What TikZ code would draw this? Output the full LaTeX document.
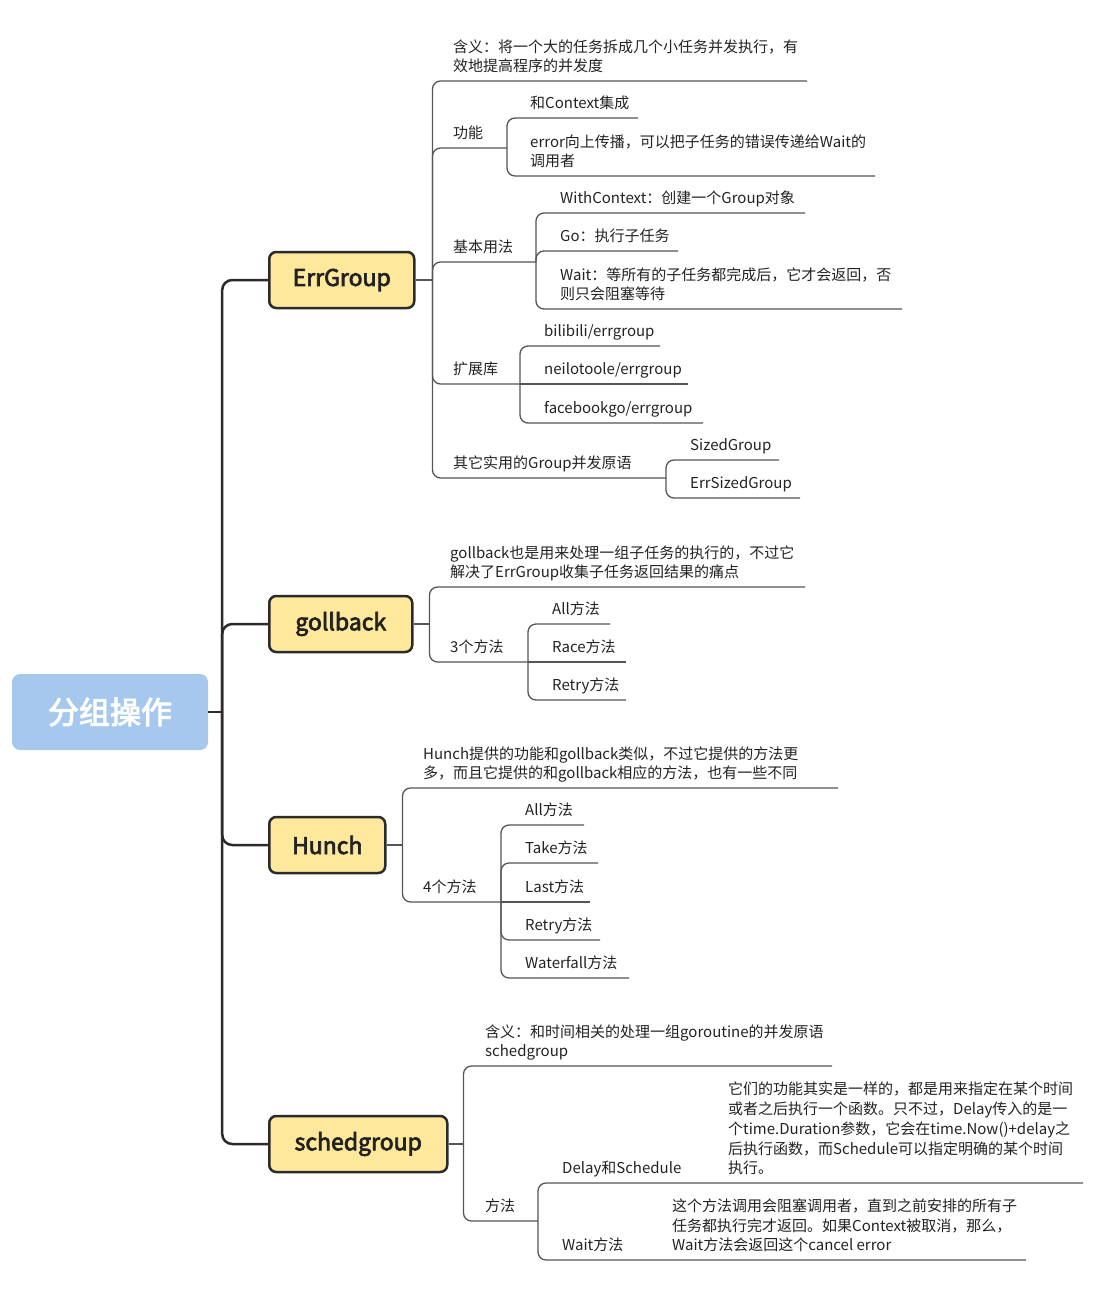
\documentclass[tikz,border=0pt]{standalone}
\usepackage{fontspec}
\setmainfont{Noto Sans CJK SC}
\newfontfamily\mmmedium[FakeBold=3]{Noto Sans CJK SC}
\definecolor{rootblue}{HTML}{A7C8EE}
\definecolor{boxyellow}{HTML}{FDE89C}
\definecolor{mainline}{HTML}{2B2B2B}
\definecolor{subline}{HTML}{555555}
\definecolor{txt}{HTML}{222222}
\tikzset{
  topic/.style={anchor=south west, inner xsep=0pt, inner ysep=3pt, align=left,
    font=\fontsize{15}{19.8}\selectfont, text=txt, execute at end node={\strut}},
  rootbox/.style={fill=rootblue, rounded corners=8pt, minimum width=196pt, minimum height=76pt,
    text=white, font=\fontsize{31}{36}\selectfont\mmmedium, inner sep=0pt},
  l1box/.style={draw=mainline, line width=2.5pt, fill=boxyellow, rounded corners=7pt,
    minimum height=56pt, anchor=west, inner sep=0pt, text=txt,
    font=\fontsize{23}{26}\selectfont\mmmedium},
  mainlink/.style={draw=mainline, line width=2.5pt, rounded corners=10pt},
  sublink/.style={draw=subline, line width=1.3pt, rounded corners=8pt},
}
\newcommand{\mmt}[6]{%
  \node[topic] (#1) at (#2,#3) {#6};
  \coordinate (#1u) at (#4,#3);
  \draw[sublink] (#5) |- (#1u);}
\newcommand{\mms}[6]{%
  \node[topic] (#1) at (#2,#3) {#6};
  \coordinate (#1u) at (#4,#3);
  \draw[sublink] (#5) -- (#1u);}
\begin{document}
\begin{tikzpicture}[x=1pt,y=-1pt]
\useasboundingbox (0,0) rectangle (1098,1300);
% root and level 1
\node[rootbox] (root) at (110,712) {分组操作};
\node[l1box, minimum width=145pt] (eg) at (268,280) {ErrGroup};
\node[l1box, minimum width=143pt] (gb) at (268,624) {gollback};
\node[l1box, minimum width=116pt] (hc) at (268,845) {Hunch};
\node[l1box, minimum width=178pt] (sg) at (268,1144) {schedgroup};
\coordinate (rb) at ([xshift=14pt]root.east);
\draw[mainlink, rounded corners=0pt] (root.east) -- (rb);
\foreach \n in {eg,gb,hc,sg} \draw[mainlink] (rb) |- (\n.west);
% ErrGroup
\coordinate (egb) at ([xshift=17pt]eg.east);
\draw[sublink, rounded corners=0pt] (eg.east) -- (egb);
\mmt{eg1}{453}{81}{807}{egb}{含义：将一个大的任务拆成几个小任务并发执行，有\\效地提高程序的并发度}
\mmt{gn}{453}{148}{507}{egb}{功能}
\mmt{gn1}{530}{118}{638}{gnu}{和Context集成}
\mmt{gn2}{530}{176}{875}{gnu}{error向上传播，可以把子任务的错误传递给Wait的\\调用者}
\mmt{jb}{453}{262}{536}{egb}{基本用法}
\mmt{jb1}{560}{213}{805}{jbu}{WithContext：创建一个Group对象}
\mmt{jb2}{560}{251}{678}{jbu}{Go：执行子任务}
\mmt{jb3}{560}{309}{902}{jbu}{Wait：等所有的子任务都完成后，它才会返回，否\\则只会阻塞等待}
\mmt{kz}{453}{384}{520}{egb}{扩展库}
\mmt{kz1}{544}{346}{660}{kzu}{bilibili/errgroup}
\mms{kz2}{544}{384}{688}{kzu}{neilotoole/errgroup}
\mmt{kz3}{544}{423}{703}{kzu}{facebookgo/errgroup}
\mmt{qt}{453}{478}{666}{egb}{其它实用的Group并发原语}
\mmt{qt1}{690}{460}{779}{qtu}{SizedGroup}
\mmt{qt2}{690}{498}{800}{qtu}{ErrSizedGroup}
% gollback
\coordinate (gbb) at ([xshift=16pt]gb.east);
\draw[sublink, rounded corners=0pt] (gb.east) -- (gbb);
\mmt{gb1}{450}{587}{805}{gbb}{gollback也是用来处理一组子任务的执行的，不过它\\解决了ErrGroup收集子任务返回结果的痛点}
\mmt{gm}{450}{662}{528}{gbb}{3个方法}
\mmt{gm1}{552}{624}{610}{gmu}{All方法}
\mms{gm2}{552}{662}{626}{gmu}{Race方法}
\mmt{gm3}{552}{700}{626}{gmu}{Retry方法}
% Hunch
\coordinate (hcb) at ([xshift=16pt]hc.east);
\draw[sublink, rounded corners=0pt] (hc.east) -- (hcb);
\mmt{hc1}{423}{788}{838}{hcb}{Hunch提供的功能和gollback类似，不过它提供的方法更\\多，而且它提供的和gollback相应的方法，也有一些不同}
\mmt{hm}{423}{902}{501}{hcb}{4个方法}
\mmt{hm1}{525}{825}{584}{hmu}{All方法}
\mmt{hm2}{525}{863}{598}{hmu}{Take方法}
\mms{hm3}{525}{902}{590}{hmu}{Last方法}
\mmt{hm4}{525}{940}{600}{hmu}{Retry方法}
\mmt{hm5}{525}{978}{629}{hmu}{Waterfall方法}
% schedgroup
\coordinate (sgb) at ([xshift=15pt]sg.east);
\draw[sublink, rounded corners=0pt] (sg.east) -- (sgb);
\mmt{sg1}{485}{1066}{832}{sgb}{含义：和时间相关的处理一组goroutine的并发原语\\schedgroup}
\mmt{sm}{485}{1221}{538}{sgb}{方法}
\mmt{sm1}{562}{1183}{1083}{smu}{Delay和Schedule}
\mmt{sm2}{562}{1260}{1026}{smu}{Wait方法}
\node[topic] (sm1n) at (728,1183) {它们的功能其实是一样的，都是用来指定在某个时间\\或者之后执行一个函数。只不过，Delay传入的是一\\个time.Duration参数，它会在time.Now()+delay之\\后执行函数，而Schedule可以指定明确的某个时间\\执行。};
\node[topic] (sm2n) at (672,1260) {这个方法调用会阻塞调用者，直到之前安排的所有子\\任务都执行完才返回。如果Context被取消，那么，\\Wait方法会返回这个cancel error};
\end{tikzpicture}
\end{document}
